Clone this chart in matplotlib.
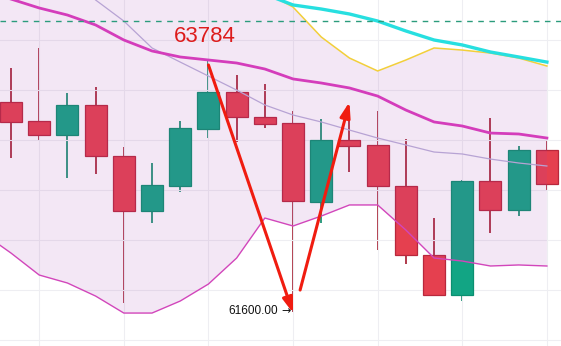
#!/usr/bin/env python3
import numpy as np
import matplotlib

matplotlib.use("Agg")
import matplotlib.pyplot as plt

# candle data (index 0..19)
opens = [63417, 63252, 63131, 63391, 62949, 62474, 62690, 63183, 63503, 63287,
         63235, 62552, 63088, 63045, 62690, 62093, 61747, 62733, 62482, 63001]
highs = [63711, 63884, 63494, 63546, 63027, 62889, 63252, 63784, 63650, 63572,
         63339, 63269, 63321, 63339, 63096, 62413, 62740, 63278, 63036, 63088]
lows = [62932, 63088, 62759, 62794, 61678, 62370, 62638, 63105, 63071, 63192,
        61600, 62370, 62811, 62136, 62015, 61738, 61695, 62283, 62430, 62655]
closes = [63244, 63131, 63391, 62949, 62474, 62699, 63192, 63503, 63287, 63226,
          62560, 63088, 63036, 62690, 62093, 61747, 62733, 62482, 63001, 62707]

# indicator lines, index -1..19
line_x = list(range(-1, 20))
band_upper = [64385, 64307, 64230, 64169, 64083, 63953, 63858, 63806, 63780, 63754,
              63702, 63616, 63581, 63538, 63468, 63347, 63244, 63209, 63148, 63140, 63105]
band_lower = [62283, 62110, 61920, 61851, 61738, 61591, 61591, 61695, 61842, 62067,
              62413, 62344, 62430, 62526, 62526, 62309, 62067, 62041, 61998, 62007, 61998]
ma_slow = [65337, 65077, 64818, 64541, 64299, 64117, 63884, 63762, 63641, 63520,
           63391, 63304, 63244, 63174, 63105, 63045, 62984, 62967, 62923, 62889, 62863]
cyan_line = [64818, 64775, 64731, 64688, 64645, 64602, 64558, 64515, 64472, 64403,
             64350, 64256, 64221, 64178, 64117, 64031, 63953, 63910, 63849, 63806, 63762]
yellow_line = [64991, 64948, 64904, 64861, 64818, 64731, 64645, 64558, 64515, 64455,
               64368, 64238, 63979, 63797, 63685, 63780, 63884, 63866, 63840, 63797, 63728]

dashed_level = 64117
high_label = "63784"
low_label = "61600.00"

UP = "#12a584"
UP_EDGE = "#0b8f70"
DOWN = "#e5404f"
DOWN_EDGE = "#b8283c"

fig = plt.figure(figsize=(5.61, 3.46), dpi=100)
ax = fig.add_axes([0, 0, 1, 1])
ax.set_xlim(-0.39, 19.5)
ax.set_ylim(61306, 64299)
for s in ax.spines.values():
    s.set_visible(False)
ax.set_xticks([1, 4, 7, 10, 13, 16, 19])
ax.set_yticks([63953, 63520, 63088, 62655, 62222, 61790, 61357])
ax.tick_params(length=0, labelbottom=False, labelleft=False)
ax.grid(True, color="#eeeef2", lw=0.8, zorder=0)

# fill between yellow line and lower band
ax.fill_between(line_x, yellow_line, band_lower, color="#a040b0", alpha=0.12,
                lw=0, zorder=3)

# candles
idx = np.arange(len(opens))
o = np.array(opens)
c = np.array(closes)
up = c >= o
cols = [UP if u else DOWN for u in up]
edges = [UP_EDGE if u else DOWN_EDGE for u in up]
wick_cols = ["#0b8a6a" if u else "#a3192c" for u in up]
ax.vlines(idx, lows, highs, colors=wick_cols, lw=1.2, zorder=1)
ax.bar(idx, np.abs(c - o), bottom=np.minimum(o, c), width=0.78, color=cols,
       edgecolor=edges, lw=0.9, zorder=2)

# lines
ax.plot(line_x, yellow_line, color="#f2cf3a", lw=1.1, zorder=4)
ax.plot(line_x, cyan_line, color="#27dfe0", lw=2.4, zorder=4)
ax.plot(line_x, ma_slow, color="#b7a3d4", lw=0.9, zorder=4)
ax.plot(line_x, band_upper, color="#d43dbb", lw=2.0, zorder=4)
ax.plot(line_x, band_lower, color="#d246bb", lw=1.0, zorder=4)
ax.axhline(dashed_level, color="#2b9c7c", lw=1.0, dashes=(4, 4), zorder=4)

# red arrows
arrow_style = "-|>,head_length=0.9,head_width=0.3"
ax.annotate("", xy=(10.0, 61591), xytext=(7.0, 63737),
            arrowprops=dict(arrowstyle=arrow_style, color="#f01c10", lw=2.2,
                            shrinkA=0, shrinkB=0), zorder=6)
ax.annotate("", xy=(12.0, 63417), xytext=(10.25, 61790),
            arrowprops=dict(arrowstyle=arrow_style, color="#f01c10", lw=2.2,
                            shrinkA=0, shrinkB=0), zorder=6)

# labels
ax.text(6.88, 63979, high_label, color="#dd1c1c", fontsize=16,
        family="Liberation Sans", ha="center", va="center", zorder=7)
ax.text(9.47, 61610, low_label, color="#111111", fontsize=8.5,
        family="Liberation Sans", ha="right", va="center", zorder=7)
ax.text(9.75, 61610, "\u2192", color="#111111", fontsize=8,
        family="DejaVu Sans", ha="center", va="center", zorder=7)

fig.savefig("out.png", dpi=100)
